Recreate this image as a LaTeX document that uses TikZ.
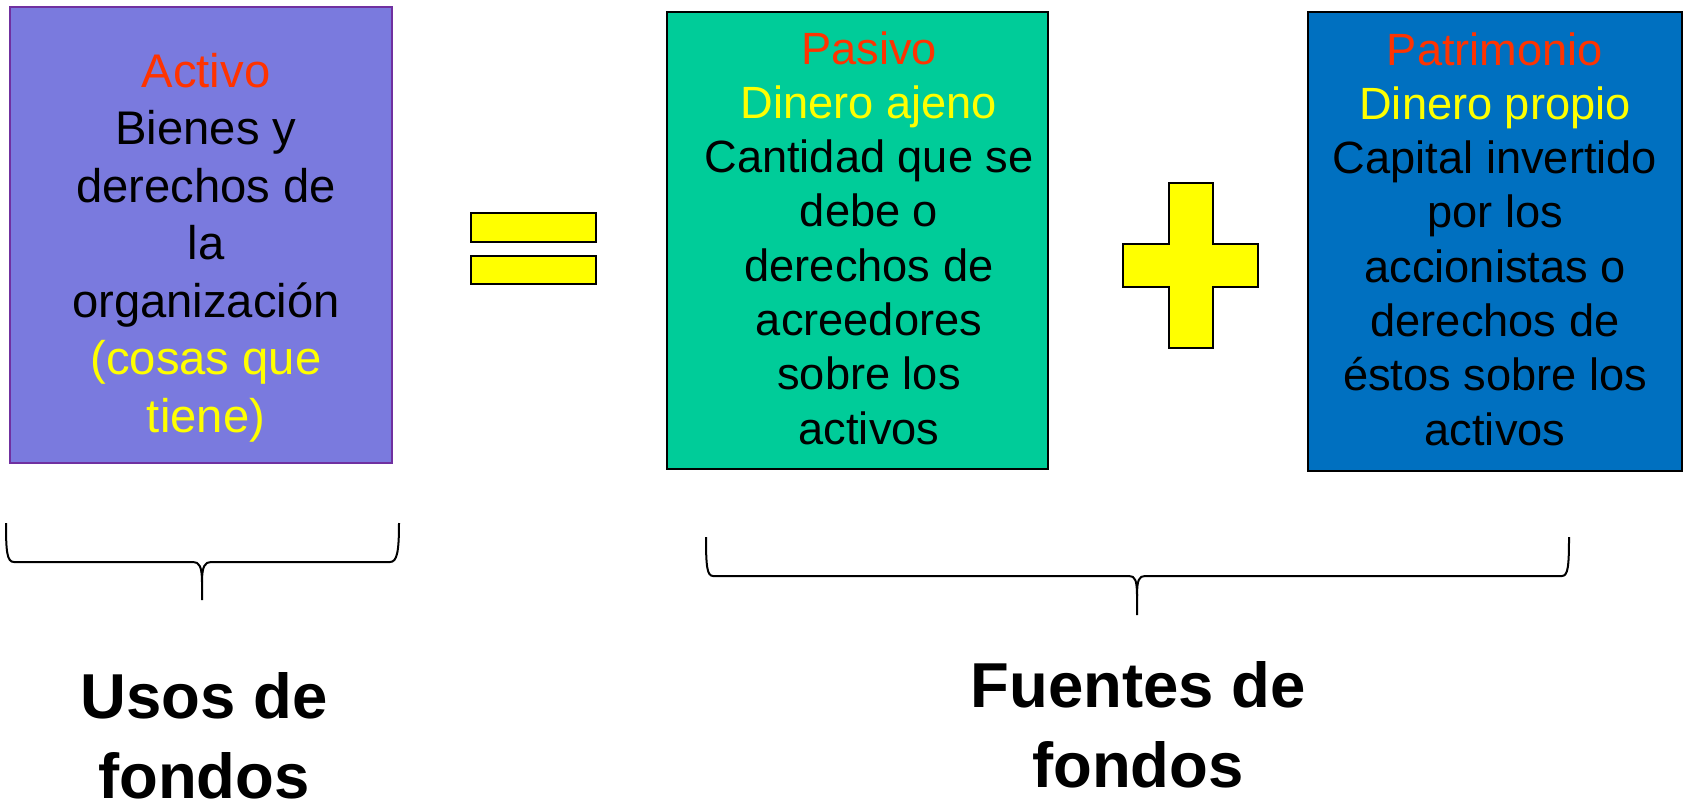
\documentclass[tikz,border=0pt]{standalone}
\usepackage{fontspec}
\setmainfont{Liberation Sans}

\definecolor{activoFill}{RGB}{122,122,222}
\definecolor{activoLine}{RGB}{112,48,160}
\definecolor{pasivoFill}{RGB}{0,204,153}
\definecolor{patriFill}{RGB}{0,112,192}
\definecolor{tituloRed}{RGB}{255,51,0}
\definecolor{notaYellow}{RGB}{255,255,0}

\tikzset{every picture/.style={line width=0.75pt}}
\tikzset{
  cuenta/.style={line width=1.5pt},
  signo/.style={draw=black, fill=notaYellow, line width=1.5pt},
  llave/.style={line width=1.5pt, line join=round},
  textoCuenta/.style={anchor=base, inner sep=0.75pt, align=center, font=\fontsize{33.9}{40.7}\selectfont},
  textoFondo/.style={anchor=base, inner sep=0.75pt, align=center, font=\bfseries\fontsize{47.6}{60}\selectfont}
}

\begin{document}
\begin{tikzpicture}[x=0.75pt,y=0.75pt,yscale=-1,xscale=1]
\useasboundingbox (0,0) rectangle (1684,802); %set diagram to 1684 x 802

%Shape: Rectangle [id:activo]
\draw [cuenta, color=activoLine, fill=activoFill] (10,7) -- (392,7) -- (392,463) -- (10,463) -- cycle ;
%Shape: Rectangle [id:pasivo]
\draw [cuenta, color=black, fill=pasivoFill] (667,12) -- (1048,12) -- (1048,469) -- (667,469) -- cycle ;
%Shape: Rectangle [id:patrimonio]
\draw [cuenta, color=black, fill=patriFill] (1308,12) -- (1682,12) -- (1682,471) -- (1308,471) -- cycle ;

%Shape: Rectangle [id:igual1]
\draw [signo] (471,213) -- (596,213) -- (596,242) -- (471,242) -- cycle ;
%Shape: Rectangle [id:igual2]
\draw [signo] (471,256) -- (596,256) -- (596,284) -- (471,284) -- cycle ;
%Shape: Cross [id:mas]
\draw [signo] (1169,183) -- (1213,183) -- (1213,244) -- (1258,244) -- (1258,287) -- (1213,287) -- (1213,348) -- (1169,348) -- (1169,287) -- (1123,287) -- (1123,244) -- (1169,244) -- cycle ;

%Shape: Brace [id:llaveUsos]
\draw [llave] (6,523) .. controls (6,552) and (7,562) .. (14,562) -- (193,562) .. controls (199,562) and (202,566) .. (202,582) -- (202,600) ;
\draw [llave] (202,582) .. controls (202,566) and (205,562) .. (211,562) -- (390,562) .. controls (397,562) and (399,552) .. (399,523) ;
%Shape: Brace [id:llaveFuentes]
\draw [llave] (706,537) .. controls (706,566) and (707,576) .. (713,576) -- (1129,576) .. controls (1135,576) and (1137,580) .. (1137,596) -- (1137,615) ;
\draw [llave] (1137,596) .. controls (1137,580) and (1139,576) .. (1145,576) -- (1562,576) .. controls (1568,576) and (1569,566) .. (1569,537) ;

% Text Node (base = last line)
\draw (206,432) node (activo) [textoCuenta, font=\fontsize{35.4}{43.1}\selectfont] {\textcolor{tituloRed}{Activo}\\ Bienes y\\ derechos de\\ la\\ organización\\ \textcolor{notaYellow}{(cosas que}\\ \textcolor{notaYellow}{tiene)}};
% Text Node
\draw (869,444) node (pasivo) [textoCuenta] {\textcolor{tituloRed}{Pasivo}\\ \textcolor{notaYellow}{Dinero ajeno}\\ Cantidad que se\\ debe o\\ derechos de\\ acreedores\\ sobre los\\ activos};
% Text Node
\draw (1495,445) node (patrimonio) [textoCuenta] {\textcolor{tituloRed}{Patrimonio}\\ \textcolor{notaYellow}{Dinero propio}\\ Capital invertido\\ por los\\ accionistas o\\ derechos de\\ éstos sobre los\\ activos};
% Text Node
\draw (204,798) node (usos) [textoFondo] {Usos de\\ fondos};
% Text Node
\draw (1138,787) node (fuentes) [textoFondo] {Fuentes de\\ fondos};
\end{tikzpicture}
\end{document}
